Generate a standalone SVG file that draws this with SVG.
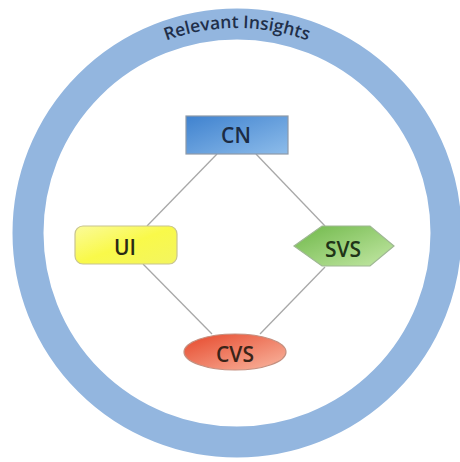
<svg xmlns="http://www.w3.org/2000/svg" width="460" height="462" viewBox="0 0 460 462">
  <style>
    .label { font-family: "Open Sans", "Liberation Sans", sans-serif; font-size: 21px; font-weight: 600; text-anchor: middle; }
    .edge { stroke: #a8a8a8; stroke-width: 1.3; fill: none; }
    .ring-text { font-family: "Open Sans", "Liberation Sans", sans-serif; font-size: 17.5px; font-weight: 600; fill: #1f2f4a; }
  </style>
  <defs>
    <linearGradient id="gBlue" x1="0" y1="0" x2="1" y2="1">
      <stop offset="0" stop-color="#3f82cf"/>
      <stop offset="1" stop-color="#8dbcea"/>
    </linearGradient>
    <linearGradient id="gYellow" x1="0" y1="0" x2="1" y2="1">
      <stop offset="0" stop-color="#fbfb9a"/>
      <stop offset="0.5" stop-color="#f9f94a"/>
      <stop offset="1" stop-color="#f3f560"/>
    </linearGradient>
    <linearGradient id="gGreen" x1="0" y1="0" x2="1" y2="1">
      <stop offset="0" stop-color="#6fb849"/>
      <stop offset="1" stop-color="#c4e8a6"/>
    </linearGradient>
    <linearGradient id="gRed" x1="0" y1="0" x2="1" y2="1">
      <stop offset="0" stop-color="#e6472a"/>
      <stop offset="1" stop-color="#f9b8a2"/>
    </linearGradient>
    <path id="ringArc" d="M 33,232 A 204 204 0 0 1 441,232"/>
  </defs>

  <rect width="460" height="462" fill="#ffffff"/>

  <!-- outer ring with its title -->
  <g id="ring">
    <circle cx="237" cy="233" r="209" fill="none" stroke="#93b6df" stroke-width="31"/>
    <text class="ring-text"><textPath href="#ringArc" startOffset="50%" text-anchor="middle">Relevant Insights</textPath></text>
  </g>

  <!-- connectors -->
  <g id="connectors">
    <line class="edge" x1="217" y1="154" x2="147" y2="226"/>
    <line class="edge" x1="256" y1="154" x2="325" y2="226"/>
    <line class="edge" x1="143" y1="264" x2="212" y2="334"/>
    <line class="edge" x1="325" y1="267" x2="260" y2="334"/>
  </g>

  <g id="node-cn">
    <rect x="186" y="116" width="102" height="38" fill="url(#gBlue)" stroke="#8e9aa8" stroke-width="1.2"/>
    <text class="label" x="236" y="143" fill="#1c2c44">CN</text>
  </g>

  <g id="node-ui">
    <rect x="75" y="226" width="102" height="38" rx="8" fill="url(#gYellow)" stroke="#c8c490" stroke-width="1.2"/>
    <text class="label" x="125" y="255" fill="#2a2a14">UI</text>
  </g>

  <g id="node-svs">
    <polygon points="294,246 322,226 370,226 394,246 370,266 322,266" fill="url(#gGreen)" stroke="#9fb894" stroke-width="1.2"/>
    <text class="label" x="343" y="257" fill="#203418">SVS</text>
  </g>

  <g id="node-cvs">
    <ellipse cx="235" cy="352" rx="51" ry="18" fill="url(#gRed)" stroke="#c49080" stroke-width="1.2"/>
    <text class="label" x="235" y="362" fill="#3a2418">CVS</text>
  </g>
</svg>
